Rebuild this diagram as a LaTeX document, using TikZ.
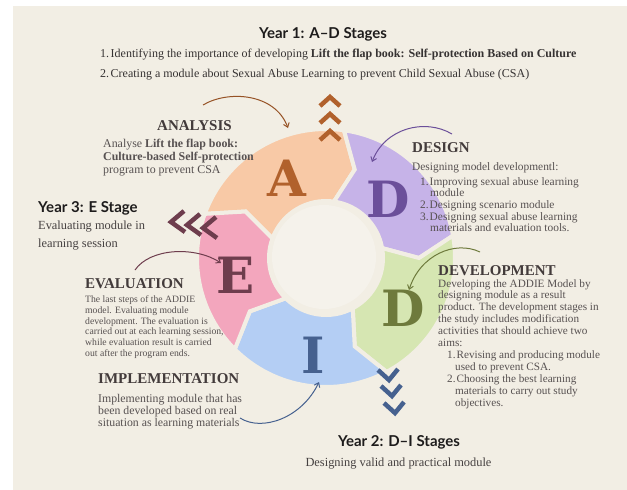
\documentclass[tikz,border=0pt]{standalone}
\usepackage{fontspec}
\setmainfont{Liberation Serif}
\newfontfamily\yearfont{Lato}
\newfontfamily\bigfont{DejaVu Serif}
\usetikzlibrary{calc,arrows.meta}
\definecolor{bgc}{HTML}{F2EEE4}
\definecolor{discc}{HTML}{F5F2EB}
\definecolor{peach}{HTML}{F8C9A6}
\definecolor{lilac}{HTML}{C6B3E8}
\definecolor{lime}{HTML}{D6E6B2}
\definecolor{sky}{HTML}{B4CEF4}
\definecolor{rose}{HTML}{F3A6BD}
\definecolor{rustc}{HTML}{B1612C}
\definecolor{violc}{HTML}{6B4F9A}
\definecolor{olivec}{HTML}{6E7A3C}
\definecolor{navyc}{HTML}{46618F}
\definecolor{plumc}{HTML}{6E3D4D}
\definecolor{yearc}{HTML}{1E1C1C}
\definecolor{hdc}{HTML}{433B3B}
\definecolor{bodyc}{HTML}{575151}
\definecolor{topc}{HTML}{363232}
\def\segRi{57}
\def\segRo{129}
\def\segRm{93}
\def\segDl{10}
\newcommand{\ringseg}[3]{%
  \filldraw[#3, draw=bgc, line width=4pt, line join=miter]
    ($(C)+(#1:\segRo)$) arc[start angle=#1, end angle=#2, radius=\segRo]
    -- ($(C)+(#2+\segDl:\segRm)$) -- ($(C)+(#2:\segRi)$)
    arc[start angle=#2, end angle=#1, radius=\segRi]
    -- ($(C)+(#1+\segDl:\segRm)$) -- cycle;}
\begin{document}
\begin{tikzpicture}[x=1pt,y=-1pt,
  yearhd/.style={font=\yearfont\bfseries\fontsize{15}{18}\selectfont, text=yearc, inner sep=0},
  sechd/.style={font=\bfseries\fontsize{15}{18}\selectfont, text=hdc, inner sep=0, anchor=base west},
  topline/.style={font=\fontsize{12}{14}\selectfont, text=topc, inner sep=0, anchor=base west},
  body/.style={font=\fontsize{11.2}{12}\selectfont, text=bodyc, inner sep=0, anchor=base west},
  smallbody/.style={font=\fontsize{9.7}{11}\selectfont, text=bodyc, inner sep=0, anchor=base west},
  yearbody/.style={font=\fontsize{12.4}{14}\selectfont, text=bodyc!80!black, inner sep=0, anchor=base west},
  bigletter/.style={font=\bigfont\bfseries\fontsize{50}{50}\selectfont, inner sep=0},
  chev/.style={line width=4.5pt, line join=miter, line cap=butt},
  curv/.style={line width=1pt, -{Straight Barb[length=4pt,width=6pt]}}]
\useasboundingbox (0,0) rectangle (627,490);
\fill[white] (0,0) rectangle (627,490);
\fill[bgc] (13,6) rectangle (627,490);
\coordinate (C) at (326,258);
% ring
\ringseg{200}{278}{peach}
\ringseg{278}{350}{lilac}
\ringseg{350}{422}{lime}
\ringseg{62}{135}{sky}
\ringseg{135}{200}{rose}
\fill[discc] (324,257) circle[radius=52];
% big letters
\node[bigletter, text=rustc] (LA) at (287,178) {A};
\node[bigletter, text=violc] (LD1) at (388,199) {D};
\node[bigletter, text=olivec] (LD2) at (403,308) {D};
\node[bigletter, text=navyc] (LI) at (313,355) {I};
\node[bigletter, text=plumc] (LE) at (236,275) {E};
% chevrons
\foreach \yy in {97,114,131} \draw[chev, rustc] (320,\yy+9) -- (330,\yy) -- (340,\yy+9);
\foreach \xx/\yy in {171/222,187/225,203/228} \draw[chev, plumc] (\xx+13,\yy-11) -- (\xx,\yy) -- (\xx+14,\yy+10);
\foreach \xx/\yy in {389/380,392/396,395/413} \draw[chev, navyc] (\xx-11,\yy-10) -- (\xx,\yy) -- (\xx+9,\yy-11);
% headings
\node[yearhd, anchor=base] (y1) at (323,38.5) {Year 1: A–D Stages};
\node[topline] (t1) at (100,57.5) {1.\hspace{1.5pt}Identifying the importance of developing \textbf{Lift the flap book: Self-protection Based on Culture}};
\node[topline] (t2) at (100,77.5) {2.\hspace{1.5pt}Creating a module about Sexual Abuse Learning to prevent Child Sexual Abuse (CSA)};
% analysis
\node[sechd] (ha) at (157,130) {ANALYSIS};
\node[body, font=\fontsize{11.9}{12}\selectfont] (a1) at (103,147) {Analyse \textbf{Lift the flap book:}};
\node[body, font=\fontsize{11.9}{12}\selectfont] (a2) at (103,160) {\textbf{Culture-based Self-protection}};
\node[body, font=\fontsize{11.9}{12}\selectfont] (a3) at (103,173) {program to prevent CSA};
% design
\node[sechd] (hd) at (412,152) {DESIGN};
\node[body, font=\fontsize{11.4}{12}\selectfont] (d0) at (412,170) {Designing model developmentl:};
\node[body, font=\fontsize{11.4}{12}\selectfont] (d1) at (420,185) {1.\hspace{1pt}Improving sexual abuse learning};
\node[body, font=\fontsize{11.4}{12}\selectfont] (d2) at (430,196.5) {module};
\node[body, font=\fontsize{11.4}{12}\selectfont] (d3) at (420,208) {2.\hspace{1pt}Designing scenario module};
\node[body, font=\fontsize{11.4}{12}\selectfont] (d4) at (420,220) {3.\hspace{1pt}Designing sexual abuse learning};
\node[body, font=\fontsize{11.4}{12}\selectfont] (d5) at (430,231.5) {materials and evaluation tools.};
% year 3
\node[yearhd, anchor=base west] (y3) at (38,212) {Year 3: E Stage};
\node[yearbody] (y3a) at (38,229) {Evaluating module in};
\node[yearbody] (y3b) at (38,247) {learning session};
% evaluation
\node[sechd] (he) at (85,288.5) {EVALUATION};
\node[smallbody] (e1) at (85,302) {The last steps of the ADDIE};
\node[smallbody] (e2) at (85,313) {model. Evaluating module};
\node[smallbody] (e3) at (85,324) {development. The evaluation is};
\node[smallbody] (e4) at (85,334.5) {carried out at each learning session,};
\node[smallbody] (e5) at (85,345.5) {while evaluation result is carried};
\node[smallbody] (e6) at (85,356) {out after the program ends.};
% development
\node[sechd] (hv) at (438,275.5) {DEVELOPMENT};
\node[body] (v1) at (438,287) {Developing the ADDIE Model by};
\node[body] (v2) at (438,298.9) {designing module as a result};
\node[body] (v3) at (438,310.8) {product. The development stages in};
\node[body] (v4) at (438,322.7) {the study includes modification};
\node[body] (v5) at (438,334.6) {activities that should achieve two};
\node[body] (v6) at (438,346.5) {aims:};
\node[body] (v7) at (447,358.4) {1.\hspace{1pt}Revising and producing module};
\node[body] (v8) at (455,370.3) {used to prevent CSA.};
\node[body] (v9) at (447,382.2) {2.\hspace{1pt}Choosing the best learning};
\node[body] (v10) at (455,394.1) {materials to carry out study};
\node[body] (v11) at (455,406) {objectives.};
% implementation
\node[sechd] (hi) at (98,383.5) {IMPLEMENTATION};
\node[body, font=\fontsize{11.8}{12}\selectfont] (i1) at (98,402) {Implementing module that has};
\node[body, font=\fontsize{11.8}{12}\selectfont] (i2) at (98,414) {been developed based on real};
\node[body, font=\fontsize{11.8}{12}\selectfont] (i3) at (98,426) {situation as learning materials};
% year 2
\node[yearhd, anchor=base] (y2) at (399,446.5) {Year 2: D–I Stages};
\node[yearbody, anchor=base] (y2a) at (398.5,466) {Designing valid and practical module};
% curved arrows
\coordinate (aS) at (203,105); \coordinate (aE) at (288,128);
\draw[curv, rustc!85!black] (aS) .. controls (228,90) and (275,93) .. (aE);
\coordinate (dS) at (452,134); \coordinate (dE) at (372,162);
\draw[curv, violc] (dS) .. controls (425,118) and (385,128) .. (dE);
\coordinate (vS) at (480,252); \coordinate (vE) at (409,290);
\draw[curv, olivec] (vS) .. controls (455,240) and (420,255) .. (vE);
\coordinate (eS) at (135,270); \coordinate (eE) at (221,263);
\draw[curv, plumc] (eS) .. controls (150,248) and (195,246) .. (eE);
\coordinate (iS) at (240,418); \coordinate (iE) at (319,382);
\draw[curv, navyc] (iS) .. controls (262,432) and (302,418) .. (iE);
\end{tikzpicture}
\end{document}
